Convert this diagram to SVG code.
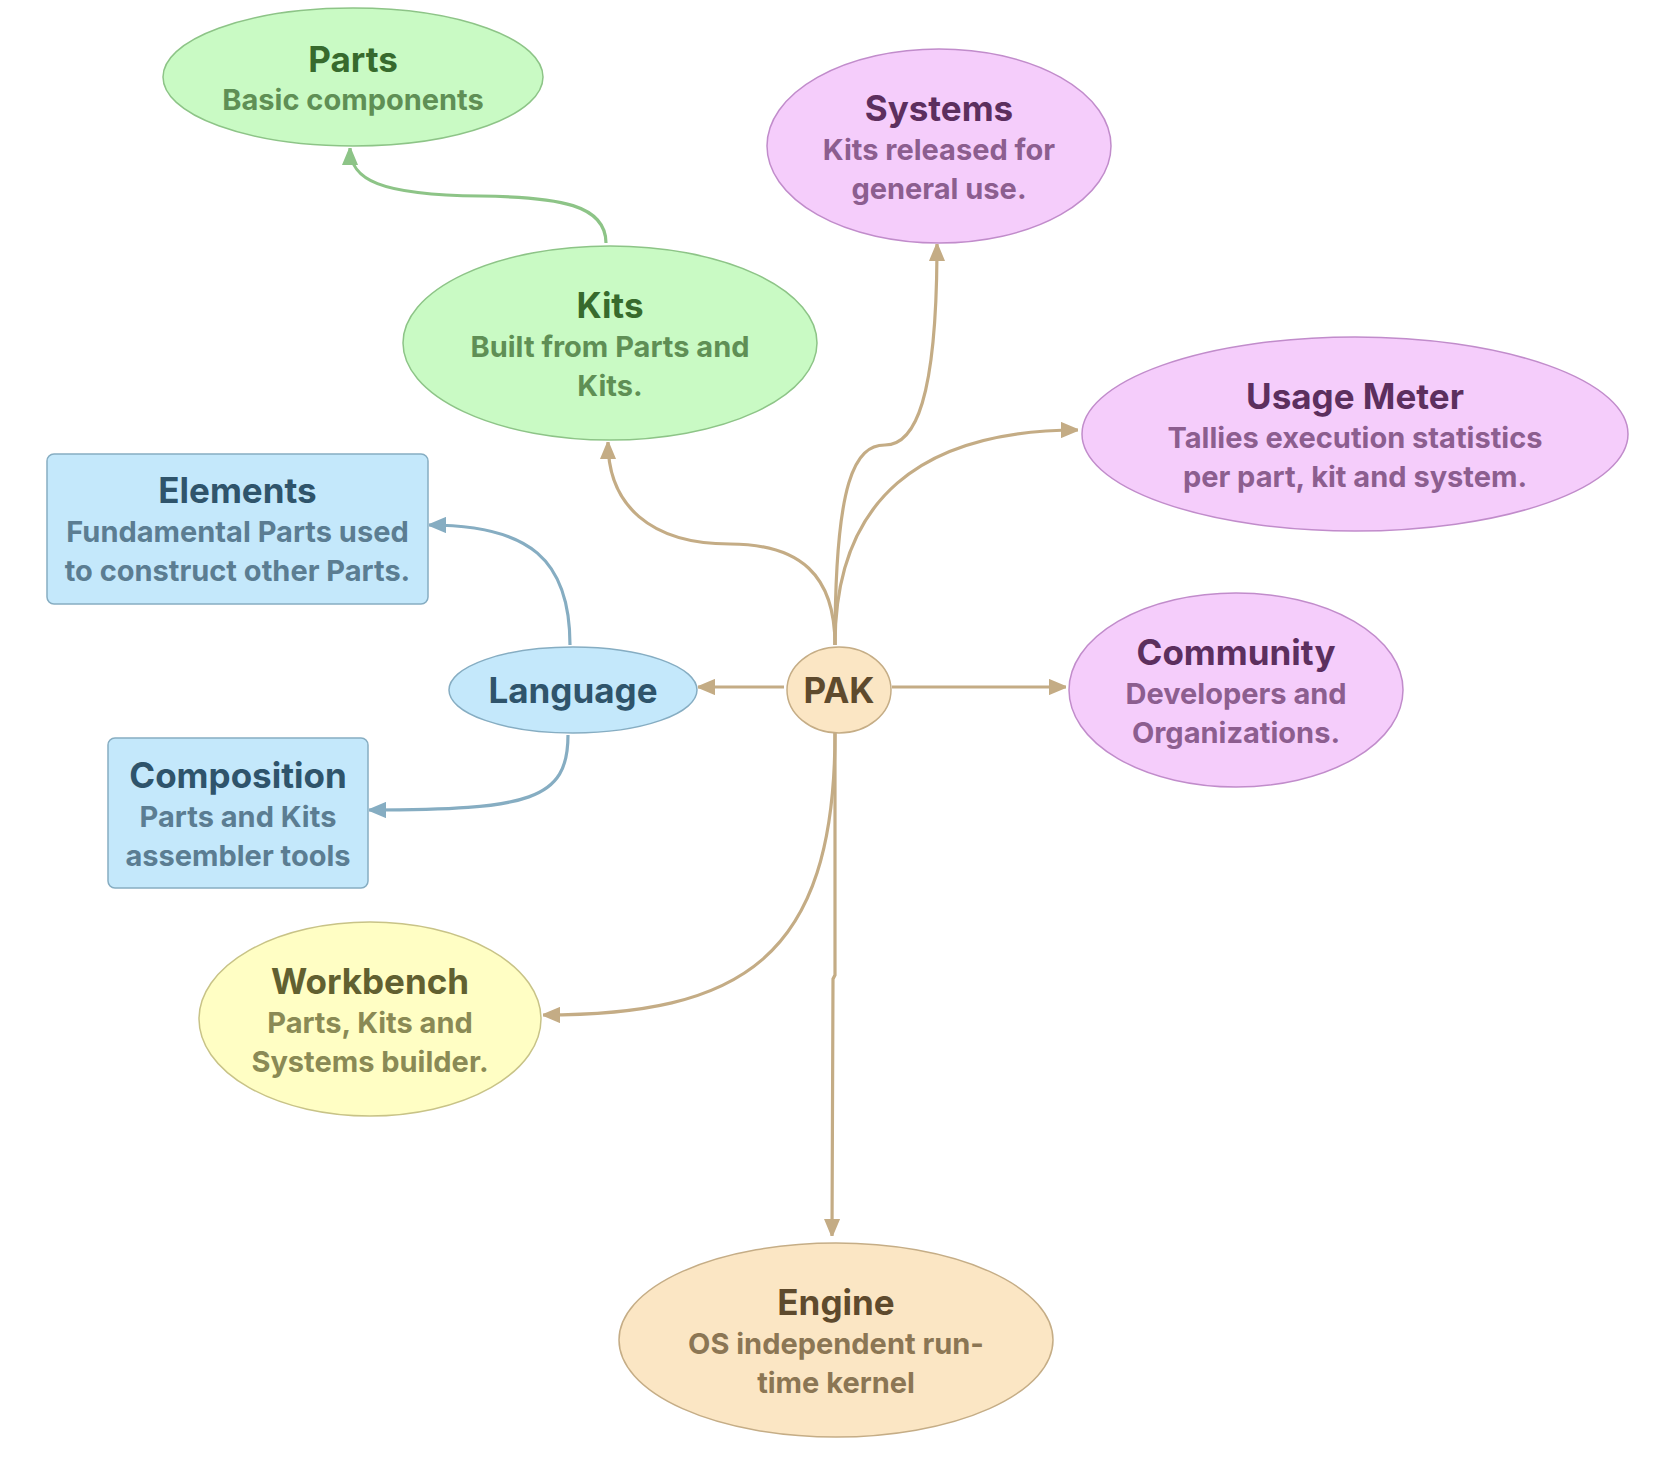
<svg xmlns="http://www.w3.org/2000/svg" width="1666" height="1480" viewBox="0 0 1666 1480">
<style>
text{font-family:Inter,"Noto Sans","Liberation Sans",sans-serif;text-anchor:middle;font-weight:700}
.t{font-size:35px}
.s{font-size:29px}
.g .shape{fill:#c9fac4;stroke:#8dc487;stroke-width:1.5}
.g .t{fill:#376a2d}.g .s{fill:#5f8f55}
.p .shape{fill:#f5cdfb;stroke:#c18ccb;stroke-width:1.5}
.p .t{fill:#5c2f5e}.p .s{fill:#8c5e8f}
.b .shape{fill:#c4e8fb;stroke:#86adc2;stroke-width:1.5}
.b .t{fill:#2f546b}.b .s{fill:#5b7d92}
.y .shape{fill:#fffec4;stroke:#c8c387;stroke-width:1.5}
.y .t{fill:#616030}.y .s{fill:#8a8a55}
.o .shape{fill:#fbe6c4;stroke:#c5ad86;stroke-width:1.5}
.o .t{fill:#5e4a2d}.o .s{fill:#8b7654}
#connectors path{fill:none;stroke-width:3.2}
.ct{stroke:#c4ac85}.cg{stroke:#8dc487}.cb{stroke:#86adc2}
</style>
<defs>
<marker id="aT" viewBox="0 0 10 10" refX="10" refY="5" markerWidth="17" markerHeight="17" markerUnits="userSpaceOnUse" orient="auto"><path d="M0,0.8 L10,5 L0,9.2 z" fill="#c4ac85" stroke="#c4ac85" stroke-width="1" stroke-linejoin="round"/></marker>
<marker id="aG" viewBox="0 0 10 10" refX="10" refY="5" markerWidth="17" markerHeight="17" markerUnits="userSpaceOnUse" orient="auto"><path d="M0,0.8 L10,5 L0,9.2 z" fill="#8dc487" stroke="#8dc487" stroke-width="1" stroke-linejoin="round"/></marker>
<marker id="aB" viewBox="0 0 10 10" refX="10" refY="5" markerWidth="17" markerHeight="17" markerUnits="userSpaceOnUse" orient="auto"><path d="M0,0.8 L10,5 L0,9.2 z" fill="#86adc2" stroke="#86adc2" stroke-width="1" stroke-linejoin="round"/></marker>
</defs>
<rect width="1666" height="1480" fill="#ffffff"/>
<g id="connectors">
<path class="cg" d="M606,243 C606,205 560,197 480,196 C380,195 350,180 350,148" marker-end="url(#aG)"/>
<path class="ct" d="M835,645 C835,575 800,544 730,544 C650,544 608,505 608,442" marker-end="url(#aT)"/>
<path class="ct" d="M835,645 C835,480 855,445 885,445 C915,445 937,400 937,244" marker-end="url(#aT)"/>
<path class="ct" d="M835,645 C835,500 920,430 1078,430" marker-end="url(#aT)"/>
<path class="ct" d="M784,687 L698,687" marker-end="url(#aT)"/>
<path class="ct" d="M892,687 L1066,687" marker-end="url(#aT)"/>
<path class="ct" d="M835,733 C835,960 740,1015 543,1015" marker-end="url(#aT)"/>
<path class="ct" d="M835,733 L835,975 L833,979 L832,1236" marker-end="url(#aT)"/>
<path class="cb" d="M570,645 C570,560 530,525 429,525" marker-end="url(#aB)"/>
<path class="cb" d="M568,735 C568,800 530,810 369,810" marker-end="url(#aB)"/>
</g>
<g id="parts" class="g"><ellipse class="shape" cx="353" cy="77" rx="190" ry="69"/><text class="t" x="353" y="72">Parts</text><text class="s" x="353" y="110">Basic components</text></g>
<g id="systems" class="p"><ellipse class="shape" cx="939" cy="146" rx="172" ry="97"/><text class="t" x="939" y="121">Systems</text><text class="s" x="939" y="160">Kits released for</text><text class="s" x="939" y="199">general use.</text></g>
<g id="kits" class="g"><ellipse class="shape" cx="610" cy="343" rx="207" ry="97"/><text class="t" x="610" y="318">Kits</text><text class="s" x="610" y="357">Built from Parts and</text><text class="s" x="610" y="396">Kits.</text></g>
<g id="usage-meter" class="p"><ellipse class="shape" cx="1355" cy="434" rx="273" ry="97"/><text class="t" x="1355" y="409">Usage Meter</text><text class="s" x="1355" y="448">Tallies execution statistics</text><text class="s" x="1355" y="487">per part, kit and system.</text></g>
<g id="elements" class="b"><rect class="shape" x="47" y="454" width="381" height="150" rx="7"/><text class="t" x="237.5" y="503">Elements</text><text class="s" x="237.5" y="542">Fundamental Parts used</text><text class="s" x="237.5" y="581">to construct other Parts.</text></g>
<g id="language" class="b"><ellipse class="shape" cx="573" cy="690" rx="124" ry="43"/><text class="t" x="573" y="703">Language</text></g>
<g id="pak" class="o"><ellipse class="shape" cx="839" cy="690" rx="52" ry="43"/><text class="t" x="839" y="703">PAK</text></g>
<g id="community" class="p"><ellipse class="shape" cx="1236" cy="690" rx="167" ry="97"/><text class="t" x="1236" y="665">Community</text><text class="s" x="1236" y="704">Developers and</text><text class="s" x="1236" y="743">Organizations.</text></g>
<g id="composition" class="b"><rect class="shape" x="108" y="738" width="260" height="150" rx="7"/><text class="t" x="238" y="788">Composition</text><text class="s" x="238" y="827">Parts and Kits</text><text class="s" x="238" y="866">assembler tools</text></g>
<g id="workbench" class="y"><ellipse class="shape" cx="370" cy="1019" rx="171" ry="97"/><text class="t" x="370" y="994">Workbench</text><text class="s" x="370" y="1033">Parts, Kits and</text><text class="s" x="370" y="1072">Systems builder.</text></g>
<g id="engine" class="o"><ellipse class="shape" cx="836" cy="1340" rx="217" ry="97"/><text class="t" x="836" y="1315">Engine</text><text class="s" x="836" y="1354">OS independent run-</text><text class="s" x="836" y="1393">time kernel</text></g>
</svg>
